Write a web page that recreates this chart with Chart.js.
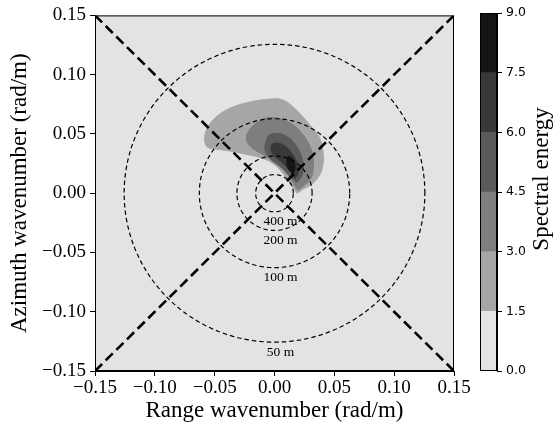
<!DOCTYPE html>
<html>
<head>
<meta charset="utf-8">
<script src="https://cdn.jsdelivr.net/npm/chart.js@4"></script>
<style>
  html, body { margin: 0; padding: 0; background: #fff; }
  #wrap { position: relative; width: 557px; height: 434px; }
  #wrap canvas { position: absolute; left: 0; top: 0; }
</style>
</head>
<body>
<div id="wrap">
  <canvas id="mainChart" width="557" height="434"></canvas>
  <canvas id="barChart" width="557" height="434"></canvas>
</div>
<script>
// contour levels and their grey shades
const levels = [0, 1.5, 3.0, 4.5, 6.0, 7.5, 9.0];
const levelColors = ['#e3e3e3', '#a6a6a6', '#7e7e7e', '#5a5a5a', '#383838', '#151515'];

// filled contour outlines, [range k, azimuth k]
// each starts at the pointed lower-right tip
const contour1 = [[0.0188, 0.0000], [0.0238, 0.0033], [0.0322, 0.0084], [0.0380, 0.0159], [0.0405, 0.0242],
  [0.0405, 0.0351], [0.0380, 0.0460], [0.0322, 0.0543], [0.0238, 0.0643], [0.0155, 0.0727], [0.0071, 0.0786],
  [-0.0038, 0.0794], [-0.0205, 0.0769], [-0.0347, 0.0727], [-0.0455, 0.0669], [-0.0539, 0.0585],
  [-0.0581, 0.0493], [-0.0564, 0.0393], [-0.0455, 0.0368], [-0.0347, 0.0351], [-0.0230, 0.0326],
  [-0.0121, 0.0301], [-0.0013, 0.0251], [0.0071, 0.0167], [0.0130, 0.0084]];
const contour2 = [[0.0196, 0.0025], [0.0238, 0.0058], [0.0297, 0.0117], [0.0322, 0.0184], [0.0322, 0.0292],
  [0.0297, 0.0393], [0.0238, 0.0493], [0.0155, 0.0577], [0.0046, 0.0627], [-0.0063, 0.0635], [-0.0180, 0.0568],
  [-0.0230, 0.0493], [-0.0230, 0.0435], [-0.0180, 0.0376], [-0.0096, 0.0326], [0.0021, 0.0251],
  [0.0104, 0.0167], [0.0155, 0.0084]];
const contour3 = [[0.0180, 0.0092], [0.0213, 0.0117], [0.0238, 0.0184], [0.0230, 0.0292], [0.0196, 0.0376],
  [0.0130, 0.0460], [0.0046, 0.0501], [-0.0038, 0.0493], [-0.0071, 0.0435], [-0.0079, 0.0368],
  [-0.0038, 0.0292], [0.0046, 0.0226], [0.0130, 0.0142]];
const contour4 = [[0.0171, 0.0125], [0.0196, 0.0167], [0.0188, 0.0251], [0.0146, 0.0334], [0.0071, 0.0409],
  [-0.0013, 0.0418], [-0.0029, 0.0368], [0.0004, 0.0309], [0.0071, 0.0251], [0.0130, 0.0184]];
const contour5 = [[0.0155, 0.0159], [0.0171, 0.0209], [0.0155, 0.0284], [0.0113, 0.0309], [0.0104, 0.0251],
  [0.0121, 0.0200]];

// wavelength rings (m) and axis ticks
const wavelengths = [400, 200, 100, 50];
const axisTicks = [-0.15, -0.10, -0.05, 0.00, 0.05, 0.10, 0.15];
const barTicks = [0.0, 1.5, 3.0, 4.5, 6.0, 7.5, 9.0];

const serif = '"Liberation Serif", "Times New Roman", serif';
Chart.defaults.color = '#000';
Chart.defaults.font.family = serif;

function fmt(v) {
    let s = Math.abs(v) < 1e-9 ? '0.00' : v.toFixed(2);
    return s.replace('-', '\u2212');
}

function toPts(arr) {
    const pts = arr.map(p => ({ x: p[0], y: p[1] }));
    pts.push(pts[0]);
    return pts;
}

const lim = axisTicks[axisTicks.length - 1];
const datasets = [];

// diagonals
datasets.push({
    data: [{ x: -lim, y: -lim }, { x: lim, y: lim }],
    showLine: true, borderColor: '#000', borderWidth: 2.6, borderDash: [10, 5],
    pointRadius: 0, fill: false
});
datasets.push({
    data: [{ x: -lim, y: lim }, { x: lim, y: -lim }],
    showLine: true, borderColor: '#000', borderWidth: 2.6, borderDash: [10, 5],
    pointRadius: 0, fill: false
});

// rings k = 2*pi/L
wavelengths.forEach(function (L) {
    const k = 2 * Math.PI / L;
    const pts = [];
    for (let i = 0; i <= 180; i++) {
        const a = i / 180 * 2 * Math.PI;
        pts.push({ x: k * Math.cos(a), y: k * Math.sin(a) });
    }
    datasets.push({
        data: pts, showLine: true, borderColor: '#000', borderWidth: 1.2,
        borderDash: [4.5, 3], pointRadius: 0, fill: false, tension: 0
    });
});

// contours, darkest on top
const contours = [contour5, contour4, contour3, contour2, contour1];
contours.forEach(function (c, i) {
    const col = levelColors[5 - i];
    datasets.push({
        data: toPts(c), showLine: true, borderColor: col, backgroundColor: col,
        borderWidth: 1, pointRadius: 0, fill: 'shape', tension: 0.4
    });
});

const plotFrame = {
    id: 'plotFrame',
    beforeDatasetsDraw(chart) {
        const a = chart.chartArea, ctx = chart.ctx;
        ctx.save();
        ctx.fillStyle = levelColors[0];
        ctx.fillRect(a.left, a.top, a.right - a.left, a.bottom - a.top);
        ctx.restore();
    },
    afterDatasetsDraw(chart) {
        const a = chart.chartArea, ctx = chart.ctx;
        const xs = chart.scales.x, ys = chart.scales.y;
        ctx.save();
        ctx.font = '13.5px ' + serif;
        ctx.fillStyle = '#000';
        ctx.textAlign = 'center';
        ctx.textBaseline = 'middle';
        wavelengths.forEach(function (L) {
            const k = 2 * Math.PI / L;
            ctx.fillText(L + ' m', xs.getPixelForValue(0.005), ys.getPixelForValue(-k - 0.0085));
        });
        ctx.strokeStyle = '#000';
        ctx.lineWidth = 1;
        ctx.strokeRect(a.left + 0.5, a.top + 0.5, a.right - a.left - 1, a.bottom - a.top - 1);
        ctx.restore();
    }
};

new Chart(document.getElementById('mainChart').getContext('2d'), {
    type: 'scatter',
    data: { datasets: datasets },
    options: {
        responsive: false,
        animation: false,
        layout: { padding: { left: 0, top: 13, right: 103, bottom: 0 } },
        plugins: { legend: { display: false }, tooltip: { enabled: false } },
        scales: {
            x: {
                type: 'linear', min: axisTicks[0], max: lim,
                afterFit: function (s) { s.height = 63; },
                afterBuildTicks: function (s) { s.ticks = axisTicks.map(v => ({ value: v })); },
                ticks: { callback: fmt, font: { size: 19 }, padding: 1, maxRotation: 0, color: '#000' },
                grid: { drawOnChartArea: false, tickLength: 5, color: '#000' },
                border: { display: true, color: '#000' },
                title: { display: true, text: 'Range wavenumber (rad/m)', font: { size: 23 }, padding: { bottom: 9 } }
            },
            y: {
                type: 'linear', min: axisTicks[0], max: lim,
                afterFit: function (s) { s.width = 95; },
                afterBuildTicks: function (s) { s.ticks = axisTicks.map(v => ({ value: v })); },
                ticks: { callback: fmt, font: { size: 19 }, padding: 4, color: '#000' },
                grid: { drawOnChartArea: false, tickLength: 5, color: '#000' },
                border: { display: true, color: '#000' },
                title: { display: true, text: 'Azimuth wavenumber (rad/m)', font: { size: 23 }, padding: { top: 6 } }
            }
        }
    },
    plugins: [plotFrame]
});

// colour bar
const barFrame = {
    id: 'barFrame',
    afterDatasetsDraw(chart) {
        const a = chart.chartArea, ctx = chart.ctx;
        ctx.save();
        ctx.strokeStyle = '#000';
        ctx.lineWidth = 1;
        ctx.strokeRect(a.left + 0.5, a.top + 0.5, a.right - a.left - 1, a.bottom - a.top - 1);
        ctx.translate(542, 179);
        ctx.rotate(-Math.PI / 2);
        ctx.font = '23px ' + serif;
        ctx.fillStyle = '#000';
        ctx.textAlign = 'center';
        ctx.textBaseline = 'middle';
        ctx.fillText('Spectral energy', 0, 0);
        ctx.restore();
    }
};

const barSets = [];
for (let i = 0; i < levels.length - 1; i++) {
    barSets.push({
        data: [[levels[i], levels[i + 1]]],
        backgroundColor: levelColors[i],
        borderWidth: 0,
        barPercentage: 1,
        categoryPercentage: 1,
        grouped: false
    });
}

new Chart(document.getElementById('barChart').getContext('2d'), {
    type: 'bar',
    data: { labels: [''], datasets: barSets },
    options: {
        responsive: false,
        animation: false,
        layout: { padding: { left: 480, top: 13, right: 0, bottom: 63 } },
        plugins: { legend: { display: false }, tooltip: { enabled: false } },
        scales: {
            x: { display: false },
            y: {
                position: 'right', min: 0, max: 9,
                afterFit: function (s) { s.width = 60; },
                afterBuildTicks: function (s) { s.ticks = barTicks.map(v => ({ value: v })); },
                ticks: {
                    callback: v => v.toFixed(1), padding: 4, color: '#000',
                    font: { family: '"DejaVu Sans", sans-serif', size: 12.5 }
                },
                grid: { drawOnChartArea: false, tickLength: 5, color: '#000' },
                border: { display: true, color: '#000' }
            }
        }
    },
    plugins: [barFrame]
});
</script>
</body>
</html>
